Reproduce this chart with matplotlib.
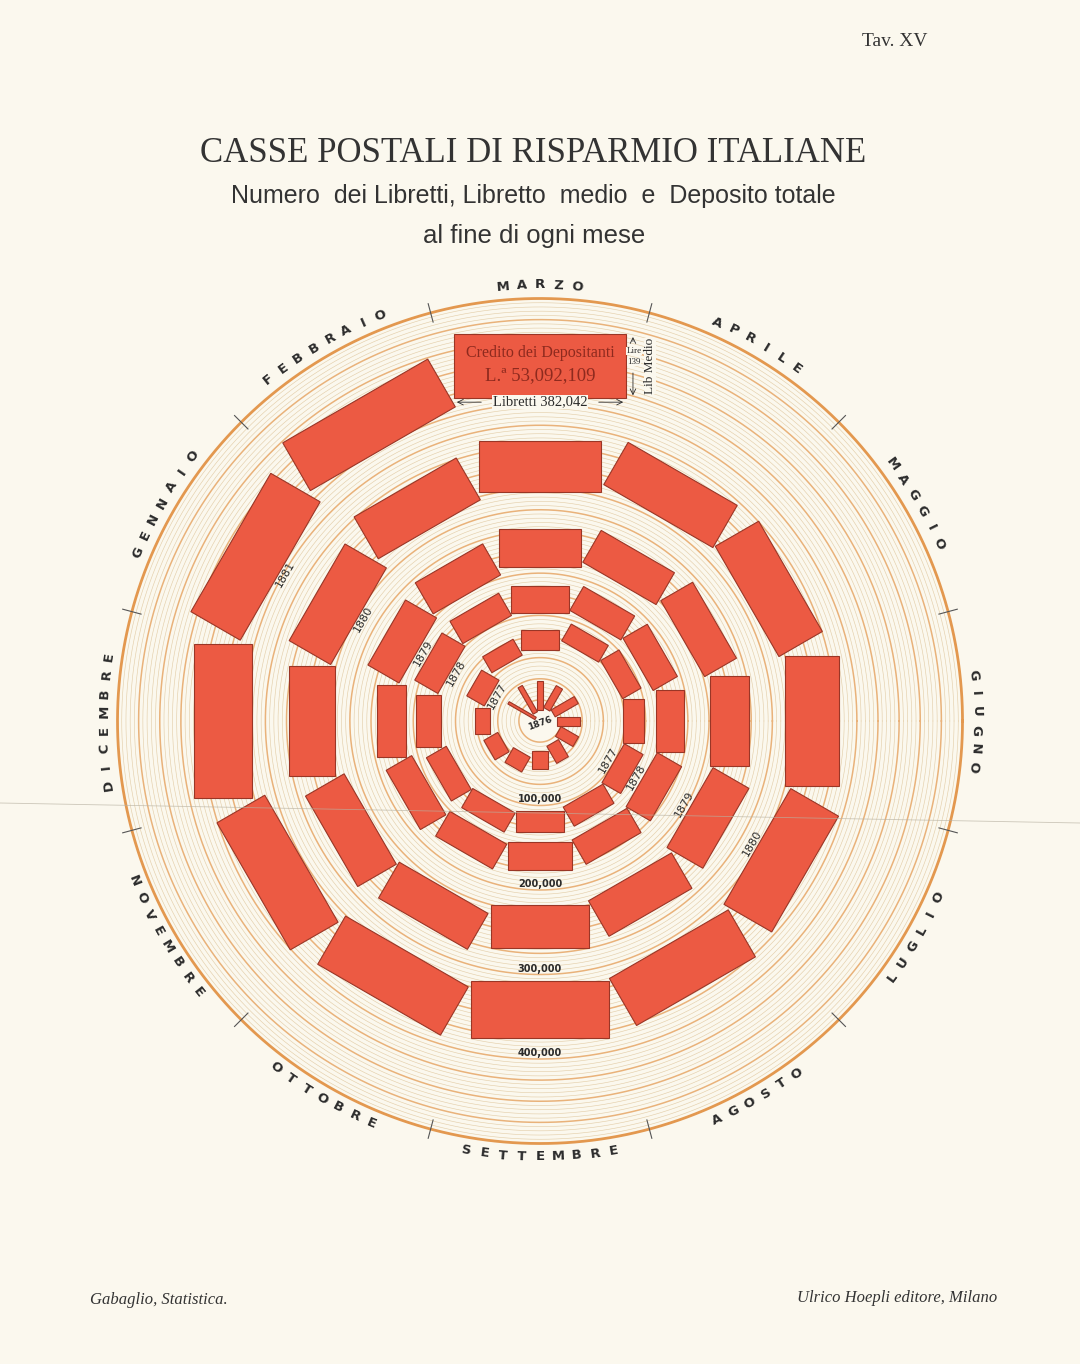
import numpy as np
import matplotlib
matplotlib.use("Agg")
import matplotlib.pyplot as plt
from matplotlib.patches import Polygon
from matplotlib import font_manager

# Casse postali di risparmio italiane - libretti, libretto medio, deposito

months = ["GENNAIO", "FEBBRAIO", "MARZO", "APRILE", "MAGGIO", "GIUGNO",
          "LUGLIO", "AGOSTO", "SETTEMBRE", "OTTOBRE", "NOVEMBRE", "DICEMBRE"]
years = [1876, 1877, 1878, 1879, 1880, 1881]

# number of libretti at the end of each month
libretti_1876 = [6000, 11000, 13000, 16000, 18000, 20000, 25000, 30000, 35000, 43000, 50000, 59000]
libretti_1877 = [66000, 78000, 84000, 95000, 98000, 98000, 100000, 102000, 106000, 109000, 111000, 117000]
libretti_1878 = [121000, 125000, 128000, 131000, 134000, 137000, 139000, 141000, 143000, 146000, 152000, 158000]
libretti_1879 = [167000, 173000, 182000, 188000, 195000, 201000, 205000, 213000, 218000, 228000, 232000, 243000]
libretti_1880 = [248000, 262000, 271000, 280000, 283000, 290000, 297000, 305000, 308000, 315000, 326000, 341000]
libretti_1881 = [355000, 372000, 382042]

# libretto medio (lire)
medio_1876 = [68, 66, 62, 55, 58, 51, 44, 43, 40, 37, 35, 34]
medio_1877 = [44, 40, 43, 42, 46, 45, 47, 48, 47, 48, 50, 54]
medio_1878 = [58, 56, 58, 60, 61, 61, 61, 61, 62, 62, 64, 65]
medio_1879 = [78, 78, 82, 80, 80, 85, 90, 89, 92, 90, 97, 99]
medio_1880 = [104, 105, 111, 106, 109, 117, 120, 118, 124, 121, 120, 126]
medio_1881 = [124, 120, 139]

libretti = [libretti_1876, libretti_1877, libretti_1878, libretti_1879, libretti_1880, libretti_1881]
medio = [medio_1876, medio_1877, medio_1878, medio_1879, medio_1880, medio_1881]

scale_values = [100000, 200000, 300000, 400000]
scale_labels = ["100,000", "200,000", "300,000", "400,000"]

# layout (pixels)
CX, CY = 540, 721
K_R = 0.845 / 1000   # radius per libretto
K_W = 0.45 / 1000    # rect width per libretto
K_H = 0.46           # rect height per lira
R_LAB = 436

BG = "#FBF8EE"
RED = "#EC5A43"
EDGE = "#9A3626"
INK = "#2B2B2B"


def has_font(name):
    return any(f.name == name for f in font_manager.fontManager.ttflist)


SUB_FONT = "Liberation Sans Narrow" if has_font("Liberation Sans Narrow") else "Liberation Sans"


def pt(r, a):
    t = np.radians(a)
    return CX + r * np.cos(t), CY - r * np.sin(t)


def rect_corners(n, m, a):
    r0 = K_R * n
    w = K_W * n
    h = K_H * m
    t = np.radians(a)
    u = np.array([np.cos(t), -np.sin(t)])
    v = np.array([np.sin(t), np.cos(t)])
    c = np.array([CX, CY]) + r0 * u
    return [c - w / 2 * v, c + w / 2 * v, c + h * u + w / 2 * v, c + h * u - w / 2 * v]


fig = plt.figure(figsize=(10.8, 13.64), dpi=100, facecolor=BG)
ax = fig.add_axes([0, 0, 1, 1])
ax.set_xlim(0, 1080)
ax.set_ylim(1364, 0)
ax.set_facecolor(BG)
ax.axis("off")

# rings: thin line every 5,000 libretti, orange every 25,000
th = np.linspace(0, 2 * np.pi, 900)
for n in range(25000, 500001, 5000):
    r = K_R * n
    if n == 500000:
        col, lw = "#E3984F", 2.0
    elif n % 25000 == 0:
        col, lw = "#E9B27A", 1.1
    else:
        col, lw = "#E4CFAB", 0.45
    ax.plot(CX + r * np.cos(th), CY + r * np.sin(th), color=col, lw=lw, zorder=1)

# month boundary ticks
for b in range(12):
    a = 165 - 30 * b
    x0, y0 = pt(413, a)
    x1, y1 = pt(432, a)
    ax.plot([x0, x1], [y0, y1], color="#555555", lw=0.8, zorder=2)

# rectangles
for yi, yr in enumerate(years):
    for mi, (n, m) in enumerate(zip(libretti[yi], medio[yi])):
        a = 150 - 30 * mi
        ax.add_patch(Polygon(rect_corners(n, m, a), closed=True, facecolor=RED,
                             edgecolor=EDGE, lw=0.8, zorder=3))

# year labels
for yi, yr in enumerate(years[1:], start=1):
    r = K_R * libretti[yi][0] - 6
    x, y = pt(r, 150)
    ax.text(x, y, str(yr), rotation=60, ha="center", va="center",
            fontsize=8, color=INK, zorder=4)
    if yr < 1881:
        r = K_R * libretti[yi][6] - 6
        x, y = pt(r, -30)
        ax.text(x, y, str(yr), rotation=60, ha="center", va="center",
                fontsize=8, color=INK, zorder=4)
ax.text(CX, CY + 2, "1876", rotation=20, ha="center", va="center",
        fontsize=6.5, color=INK, fontweight="bold", zorder=4)

# scale labels
for v, lab in zip(scale_values, scale_labels):
    ax.text(CX, CY + K_R * v - 6, lab, ha="center", va="center",
            fontsize=7, color=INK, fontweight="bold", zorder=4)

# month labels around the circle
step = np.degrees(18.5 / R_LAB)
for mi, name in enumerate(months):
    a0 = 150 - 30 * mi
    if a0 < -180:
        a0 += 360
    k = len(name)
    upper = not (-165 < a0 < -15)
    for i, ch in enumerate(name):
        if upper:
            a = a0 + (k - 1) / 2 * step - i * step
            rot = a - 90
        else:
            a = a0 - (k - 1) / 2 * step + i * step
            rot = a + 90
        x, y = pt(R_LAB, a)
        ax.text(x, y, ch, rotation=rot, ha="center", va="center",
                fontsize=9.5, fontweight="bold", color=INK,
                rotation_mode="anchor", zorder=4)

# annotation on the last rectangle
n_last, m_last = libretti_1881[-1], medio_1881[-1]
r0 = K_R * n_last
h = K_H * m_last
w = K_W * n_last
y_bot = CY - r0
y_top = y_bot - h
x_l = CX - w / 2
x_r = CX + w / 2
ax.text(CX, y_top + 19, "Credito dei Depositanti", ha="center", va="center",
        fontsize=11.5, color="#8E2A1E", family="Liberation Serif", zorder=5)
ax.text(CX, y_top + 41, "L.ª 53,092,109", ha="center", va="center",
        fontsize=13.5, color="#8E2A1E", family="Liberation Serif", zorder=5)
ax.text(CX, y_bot + 4, "Libretti 382,042", ha="center", va="center",
        fontsize=10.5, color=INK, family="Liberation Serif", zorder=5,
        bbox=dict(facecolor=BG, edgecolor="none", pad=0.5))
ax.annotate("", xy=(x_l, y_bot + 4), xytext=(x_l + 30, y_bot + 4),
            arrowprops=dict(arrowstyle="->", lw=0.6, color=INK), zorder=5)
ax.annotate("", xy=(x_r, y_bot + 4), xytext=(x_r - 30, y_bot + 4),
            arrowprops=dict(arrowstyle="->", lw=0.6, color=INK), zorder=5)
xa = x_r + 7
ax.annotate("", xy=(xa, y_top), xytext=(xa, y_top + 10),
            arrowprops=dict(arrowstyle="->", lw=0.6, color=INK), zorder=5)
ax.annotate("", xy=(xa, y_bot), xytext=(xa, y_bot - 28),
            arrowprops=dict(arrowstyle="->", lw=0.6, color=INK), zorder=5)
ax.text(xa + 1, y_top + 17, "Lire", ha="center", va="center", fontsize=6.5,
        color=INK, family="Liberation Serif", zorder=5,
        bbox=dict(facecolor=BG, edgecolor="none", pad=0.1))
ax.text(xa + 1, y_top + 28, "139", ha="center", va="center", fontsize=6.5,
        color=INK, family="Liberation Serif", zorder=5,
        bbox=dict(facecolor=BG, edgecolor="none", pad=0.1))
ax.text(xa + 17, (y_top + y_bot) / 2, "Lib Medio", rotation=90, ha="center",
        va="center", fontsize=9.5, color=INK, family="Liberation Serif", zorder=5,
        bbox=dict(facecolor=BG, edgecolor="none", pad=0.1))

# fold line of the scanned plate
ax.plot([0, 1080], [803, 823], color="#B8B2A2", lw=0.6, alpha=0.7, zorder=6)

# titles
ax.text(533, 153, "CASSE POSTALI DI RISPARMIO ITALIANE", ha="center", va="center",
        fontsize=25, color="#333333", family="Liberation Serif")
ax.text(533, 196, "Numero  dei Libretti, Libretto  medio  e  Deposito totale",
        ha="center", va="center", fontsize=18, color="#333333", family=SUB_FONT)
ax.text(534, 236, "al fine di ogni mese", ha="center", va="center",
        fontsize=18.5, color="#333333", family=SUB_FONT)
ax.text(895, 42, "Tav. XV", ha="center", va="center", fontsize=14,
        color="#333333", family="Liberation Serif")
ax.text(90, 1300, "Gabaglio, Statistica.", ha="left", va="center", fontsize=12,
        style="italic", color="#333333", family="Liberation Serif")
ax.text(997, 1298, "Ulrico Hoepli editore, Milano", ha="right", va="center",
        fontsize=12, style="italic", color="#333333", family="Liberation Serif")

fig.savefig("out.png", dpi=100, facecolor=BG)
